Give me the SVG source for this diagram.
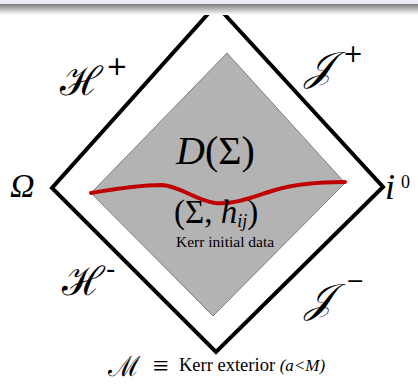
<svg xmlns="http://www.w3.org/2000/svg" width="418" height="384" viewBox="0 0 418 384">
<defs>
<linearGradient id="topShade" x1="0" y1="0" x2="0" y2="1">
<stop offset="0" stop-color="#7c7c7c"/>
<stop offset="1" stop-color="#ffffff"/>
</linearGradient>
<style>
.math{font-family:"DejaVu Serif","Liberation Serif",serif;fill:#000}
.serif{font-family:"Liberation Serif","DejaVu Serif",serif;fill:#000}
.sup{font-family:"DejaVu Sans","Liberation Sans",sans-serif;fill:#000}
</style>
</defs>
<rect x="0" y="0" width="418" height="384" fill="#ffffff"/>
<g id="spacetime">
<polygon points="216,5 383,187 216,352 52,188" fill="none" stroke="#000" stroke-width="4" stroke-linejoin="miter"/>
</g>
<g id="domain">
<polygon points="227,53 345,183 213,316 91,193" fill="#b3b3b3" stroke="#444" stroke-width="0.6"/>
</g>
<g id="connectors">
<path d="M91,193 C120,188 145,185 162,185 C180,186 195,200 215,203 C235,205 255,196 275,190 C295,184 320,182 345,182" fill="none" stroke="#c00000" stroke-width="4" stroke-linecap="round"/>
</g>
<rect x="0" y="0" width="418" height="4" fill="#ececf4"/>
<rect x="0" y="4" width="418" height="11" fill="url(#topShade)"/>
<g id="labels">
<text class="serif" x="60" y="95" font-size="40">ℋ</text>
<text class="sup" x="106" y="75" font-size="26">+</text>
<text class="math" x="305" y="80" font-size="40" font-style="italic">𝒥</text>
<text class="sup" x="343" y="62" font-size="24">+</text>
<text class="serif" x="10" y="197" font-size="34" font-style="italic">Ω</text>
<text class="serif" x="385" y="199" font-size="36" font-style="italic">i</text>
<text class="serif" x="401" y="188" font-size="18">0</text>
<text class="serif" x="62" y="295" font-size="40">ℋ</text>
<text class="sup" x="106" y="278" font-size="26">-</text>
<text class="math" x="305" y="312" font-size="40" font-style="italic">𝒥</text>
<text class="sup" x="346" y="288" font-size="22">−</text>
<text class="serif" x="176" y="164" font-size="40"><tspan font-style="italic">D</tspan>(Σ)</text>
<text class="serif" x="174" y="223" font-size="33">(Σ, <tspan font-style="italic">h</tspan><tspan font-style="italic" font-size="18" dy="4">ij</tspan><tspan dy="-4">)</tspan></text>
<text class="serif" x="176" y="247" font-size="15.5">Kerr initial data</text>
<text class="serif" x="108" y="376" font-size="28">ℳ</text>
<text class="serif" x="153" y="375" font-size="28">≡</text>
<text class="serif" x="179" y="371" font-size="18.5">Kerr exterior <tspan font-style="italic" font-size="17">(a&lt;M)</tspan></text>
</g>
</svg>
